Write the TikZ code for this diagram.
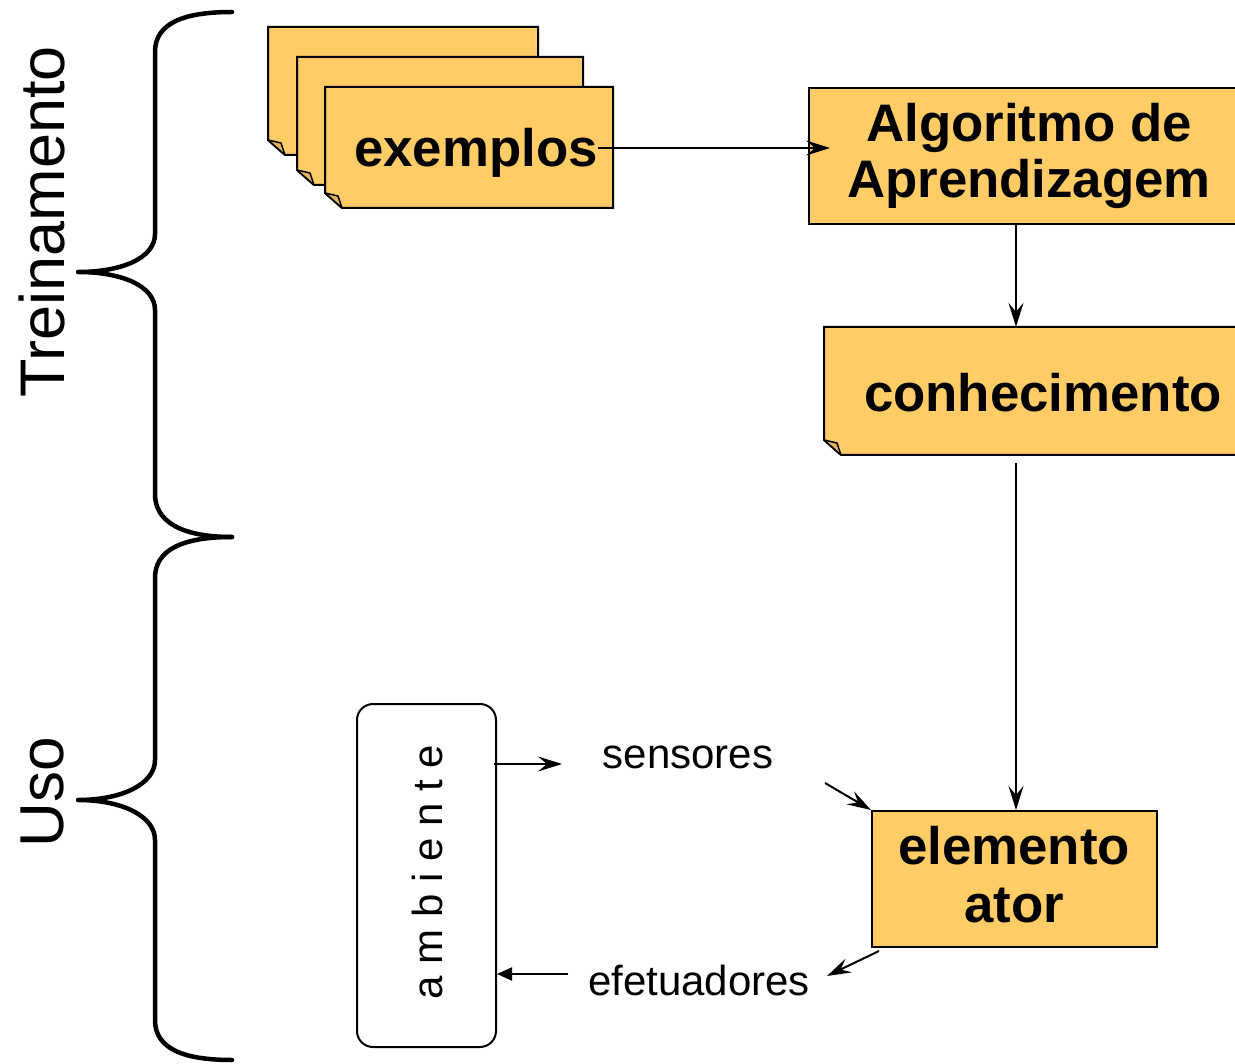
\documentclass[tikz,border=0pt]{standalone}
\usepackage{fontspec}
\setmainfont{Liberation Sans}
\usetikzlibrary{arrows.meta,calc}
\definecolor{boxfill}{HTML}{FFCC66}
\definecolor{flapfill}{HTML}{E3B25A}
\tikzset{
  boxstyle/.style={draw=black, line width=2pt, fill=boxfill, inner sep=0pt},
  bigbold/.style={font=\fontsize{52.8}{56}\selectfont\bfseries, inner sep=0pt, align=center},
  small/.style={font=\fontsize{42}{48}\selectfont, inner sep=0pt},
  side/.style={font=\fontsize{63}{70}\selectfont, inner sep=0pt, rotate=90},
  brace/.style={line width=4.5pt, line cap=round, line join=round},
  arr/.style={line width=2pt, -{Stealth[length=24pt,width=15pt,inset=9pt]}},
  arrfull/.style={line width=2pt, -{Triangle[length=15pt,width=13pt]}},
  pics/fsheet/.style 2 args={code={
    \filldraw[boxstyle] (0,0) -- (#1,0) -- (#1,#2) -- (17,#2) -- (0,{#2-15}) -- cycle;
    \filldraw[draw=black, line width=1.5pt, fill=flapfill, line join=round]
      (0,{#2-15}) -- (13,{#2-12}) -- (17,#2) -- cycle;
  }}
}
\begin{document}
\begin{tikzpicture}[x=1pt,y=-1pt]
\useasboundingbox (0,0) rectangle (1235,1064);
\clip (0,0) rectangle (1235,1064);

% braces
\draw[brace] (232,12) .. controls (182,12) and (155,24) .. (155,52) -- (155,234)
  .. controls (155,258) and (122,272) .. (78,272)
  .. controls (122,272) and (155,286) .. (155,310) -- (155,494)
  .. controls (155,522) and (182,537) .. (232,537);
\draw[brace] (232,537) .. controls (182,537) and (155,550) .. (155,578) -- (155,760)
  .. controls (155,784) and (122,800) .. (78,800)
  .. controls (122,800) and (155,816) .. (155,840) -- (155,1020)
  .. controls (155,1048) and (182,1060) .. (232,1060);
\node[side] (trein) at (42,222) {Treinamento};
\node[side, font=\fontsize{62}{70}\selectfont] (uso) at (42,792) {Uso};

% exemplos stack
\pic (sh1) at (268,27) {fsheet={270}{128}};
\pic (sh2) at (297,57) {fsheet={286}{128}};
\pic (sh3) at (325,87) {fsheet={288}{121}};
\node[bigbold, anchor=base] (extext) at (476,167) {exemplos};

% algoritmo
\node[boxstyle, minimum width=440pt, minimum height=136pt] (alg) at (1029,156) {};
\node[bigbold, anchor=base] (algtext) at (1029,198) {Algoritmo de\\Aprendizagem};

% conhecimento (folded sheet)
\pic (conhsheet) at (824,327) {fsheet={440}{128}};
\node[inner sep=0pt, minimum width=440pt, minimum height=128pt] (conh) at (1044,391) {};
\node[bigbold, anchor=base] (conhtext) at (1043,411.5) {conhecimento};

% elemento ator
\node[boxstyle, minimum width=285pt, minimum height=136pt] (elem) at (1014.5,879) {};
\node[bigbold, anchor=base] (elemtext1) at (1014,864) {elemento};
\node[bigbold, anchor=base] (elemtext2) at (1014,922) {ator};

% ambiente
\node[draw=black, line width=2pt, rounded corners=16pt, minimum width=139pt, minimum height=343pt] (amb) at (426.5,875.5) {};
\node[small, rotate=90] (ambtext) at (427,872) {a m b i e n t e};

% labels
\node[small, anchor=base] (sens) at (688,768) {sensores};
\node[small, anchor=base] (efet) at (699,995) {efetuadores};

% connectors
\coordinate (vline) at (1016,0);
\coordinate (exout) at (598,148);
\coordinate (algin) at (830,148);
\coordinate (sensin) at (562,764);
\coordinate (sensout) at (825,783);
\coordinate (efin) at (827,976);
\coordinate (efout) at (568,974);

\draw[arr] (exout) -- (algin);
\draw[arr] (alg.south -| vline) -- (conh.north -| vline);
\draw[arr] ([yshift=-8pt]conh.south -| vline) -- (elem.north -| vline);
\draw[arr] ([xshift=-3pt]amb.east |- sensin) -- (sensin);
\draw[arr] (sensout) -- (elem.north west);
\draw[arr] ([xshift=8pt,yshift=-3pt]elem.south west) -- (efin);
\draw[arrfull] (efout) -- (efout -| amb.east);
\end{tikzpicture}
\end{document}
